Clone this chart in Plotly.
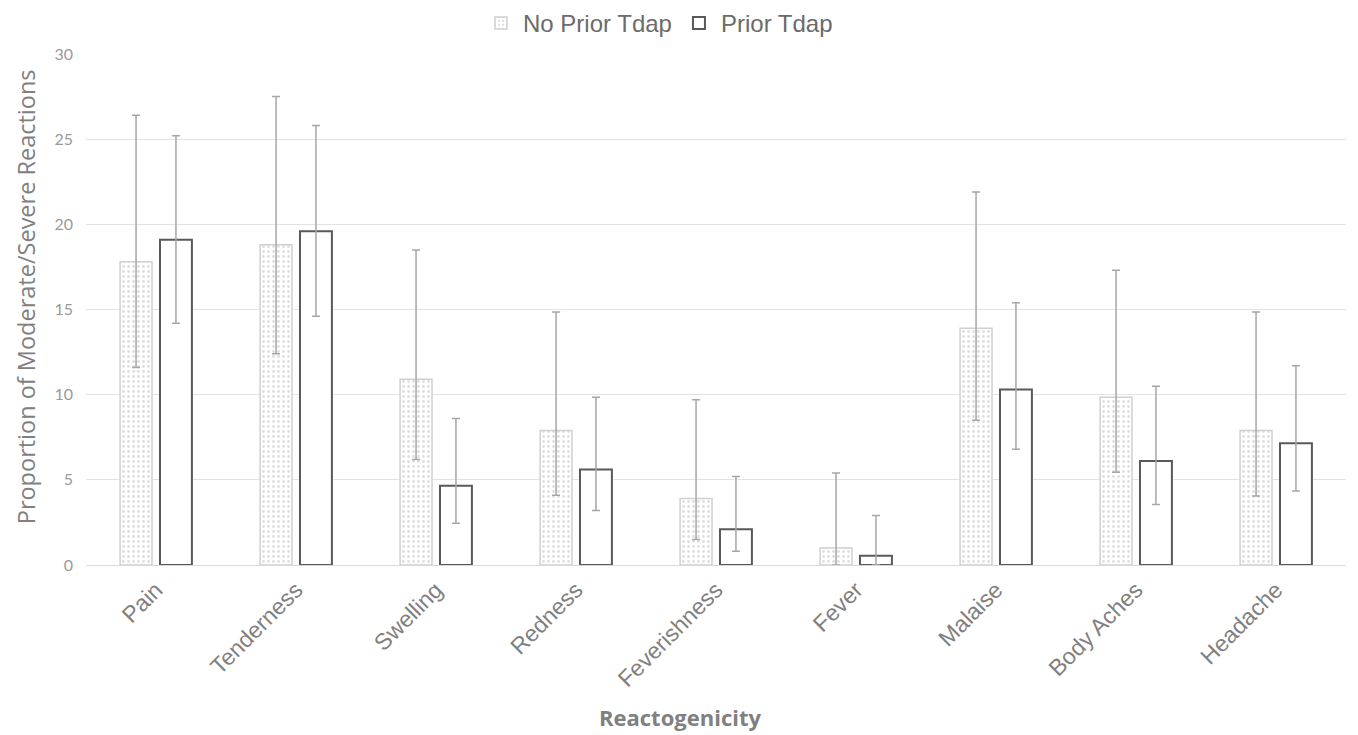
import plotly.graph_objects as go

categories = ["Pain", "Tenderness", "Swelling", "Redness", "Feverishness",
              "Fever", "Malaise", "Body Aches", "Headache"]

no_prior = [17.8, 18.8, 10.9, 7.9, 3.9, 1.0, 13.9, 9.85, 7.9]
no_prior_upper = [26.4, 27.5, 18.5, 14.85, 9.7, 5.4, 21.9, 17.3, 14.85]
no_prior_lower = [11.6, 12.4, 6.2, 4.1, 1.5, 0.0, 8.5, 5.45, 4.05]

prior = [19.1, 19.6, 4.65, 5.6, 2.1, 0.55, 10.3, 6.1, 7.15]
prior_upper = [25.2, 25.8, 8.6, 9.85, 5.2, 2.9, 15.4, 10.5, 11.7]
prior_lower = [14.2, 14.6, 2.45, 3.2, 0.8, 0.0, 6.8, 3.55, 4.35]

y_ticks = [0, 5, 10, 15, 20, 25, 30]

err_color = "#a6a6a6"

fig = go.Figure()
fig.add_trace(go.Bar(
    name="No Prior Tdap", x=categories, y=no_prior,
    marker=dict(color="white",
                line=dict(color="#d0d0d0", width=1.5),
                pattern=dict(shape=".", fgcolor="#bdbdbd", bgcolor="white",
                             size=5, solidity=0.25)),
    error_y=dict(type="data", symmetric=False,
                 array=[u - v for u, v in zip(no_prior_upper, no_prior)],
                 arrayminus=[v - l for v, l in zip(no_prior, no_prior_lower)],
                 color=err_color, thickness=1.5, width=4),
))
fig.add_trace(go.Bar(
    name="Prior Tdap", x=categories, y=prior,
    marker=dict(color="white", line=dict(color="#595959", width=2)),
    error_y=dict(type="data", symmetric=False,
                 array=[u - v for u, v in zip(prior_upper, prior)],
                 arrayminus=[v - l for v, l in zip(prior, prior_lower)],
                 color=err_color, thickness=1.5, width=4),
))

fig.update_layout(
    width=1358, height=735,
    barmode="group", bargap=0.43, bargroupgap=0.2,
    plot_bgcolor="white", paper_bgcolor="white",
    margin=dict(l=78, r=20, t=46, b=178, autoexpand=False),
    font=dict(family="Open Sans", color="#595959"),
    legend=dict(orientation="h", xref="container", yref="paper",
                x=0.479, xanchor="center", y=1.06, yanchor="middle",
                font=dict(family="Liberation Sans", size=24, color="#6b6b6b"),
                itemwidth=34, traceorder="normal"),
    showlegend=True,
    annotations=[
        dict(text="<b>Reactogenicity</b>", xref="paper", yref="paper",
             x=0.4714, y=-0.2975, xanchor="center", yanchor="middle",
             showarrow=False,
             font=dict(family="Open Sans", size=22, color="#808080")),
        dict(text="Proportion of Moderate/Severe Reactions", xref="paper",
             yref="paper", x=-0.0476, y=0.524, xanchor="center",
             yanchor="middle", textangle=-90, showarrow=False,
             font=dict(family="Open Sans", size=23.5, color="#808080")),
    ],
)
fig.update_yaxes(
    range=[0, 30], tickvals=y_ticks, showgrid=True, gridcolor="#e3e3e3",
    gridwidth=1, zeroline=True, zerolinecolor="#d9d9d9", zerolinewidth=1,
    tickfont=dict(family="Lato", size=16, color="#9a9a9a"),
    ticklabelstandoff=12, automargin=False,
)
fig.update_xaxes(
    tickangle=-45, showline=False, automargin=False,
    tickfont=dict(family="Liberation Sans", size=23, color="#808080"),
    ticklabelstandoff=6,
)

fig.write_html("out.html")
